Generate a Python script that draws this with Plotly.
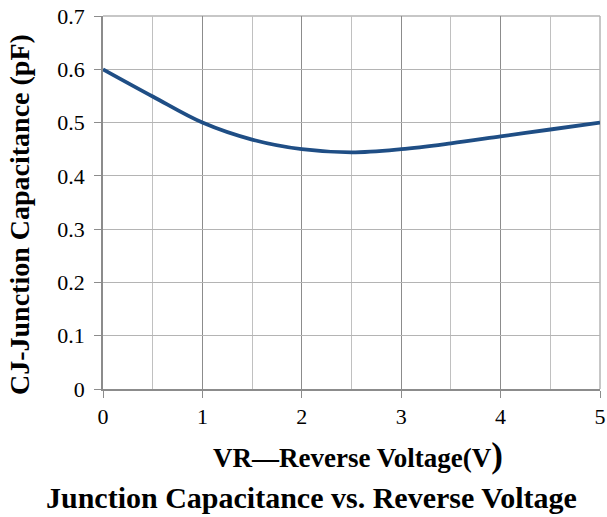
import plotly.graph_objects as go

vr = [0, 0.5, 1.0, 1.5, 2.0, 2.5, 3.0, 3.5, 4.0, 4.5, 5.0]
cj = [0.600, 0.549, 0.500, 0.468, 0.450, 0.444, 0.450, 0.461, 0.474, 0.487, 0.500]

x_title = "VR—Reverse Voltage(V<span style='font-size:35px'>)</span>"
y_title = "CJ-Junction Capacitance (pF)"
chart_title = "Junction Capacitance vs. Reverse Voltage"

FONT = "Liberation Serif"

W, H = 607, 517
L, R, T, B = 103, 7, 16, 128
PW, PH = W - L - R, H - T - B


def px_x(x):
    return (x - L) / PW


def px_y(y):
    return (H - B - y) / PH


fig = go.Figure()
fig.add_trace(go.Scatter(
    x=vr, y=cj, mode="lines",
    line=dict(color="#1f4e85", width=3.8, shape="spline", smoothing=1.0),
    showlegend=False,
))

fig.update_layout(
    width=W, height=H,
    margin=dict(l=L, r=R, t=T, b=B, autoexpand=False),
    plot_bgcolor="white", paper_bgcolor="white",
    font=dict(family=FONT, size=22, color="black"),
    annotations=[
        dict(text="<b>" + chart_title + "</b>",
             x=px_x(311), y=px_y(497), xref="paper", yref="paper",
             xanchor="center", yanchor="middle", showarrow=False,
             font=dict(family=FONT, size=30, color="black")),
        dict(text="<b>" + x_title + "</b>",
             x=px_x(358), y=px_y(456), xref="paper", yref="paper",
             xanchor="center", yanchor="middle", showarrow=False,
             font=dict(family=FONT, size=27, color="black")),
        dict(text="<b>" + y_title + "</b>", textangle=-90,
             x=px_x(19), y=px_y(215), xref="paper", yref="paper",
             xanchor="center", yanchor="middle", showarrow=False,
             font=dict(family=FONT, size=28, color="black")),
    ],
    shapes=[
        dict(type="line", xref="paper", yref="paper", x0=0, x1=1, y0=1, y1=1,
             line=dict(color="#b4b4b4", width=1.5), layer="below"),
        dict(type="line", xref="paper", yref="paper", x0=1, x1=1, y0=0, y1=1,
             line=dict(color="#b4b4b4", width=1.5), layer="below"),
    ],
)

fig.update_xaxes(
    range=[0, 5], dtick=1, tick0=0,
    showgrid=True, gridcolor="#8c8c8c", gridwidth=1,
    minor=dict(dtick=0.5, showgrid=True, gridcolor="#c0c0c0", gridwidth=1),
    showline=True, linecolor="#8c8c8c", linewidth=1.5,
    ticks="outside", ticklen=7, tickcolor="#8c8c8c",
    tickfont=dict(family=FONT, size=22),
    zeroline=False, automargin=False,
)
fig.update_yaxes(
    range=[0, 0.7], dtick=0.1, tick0=0,
    showgrid=True, gridcolor="#b4b4b4", gridwidth=1,
    showline=True, linecolor="#8c8c8c", linewidth=1.5,
    ticks="outside", ticklen=7, tickcolor="#8c8c8c", ticklabelstandoff=5,
    tickfont=dict(family=FONT, size=22),
    zeroline=False, automargin=False,
)

fig.write_html(
    "out.html",
    config={"displayModeBar": False},
    post_script="document.body.style.margin='0';document.body.style.overflow='hidden';",
)
